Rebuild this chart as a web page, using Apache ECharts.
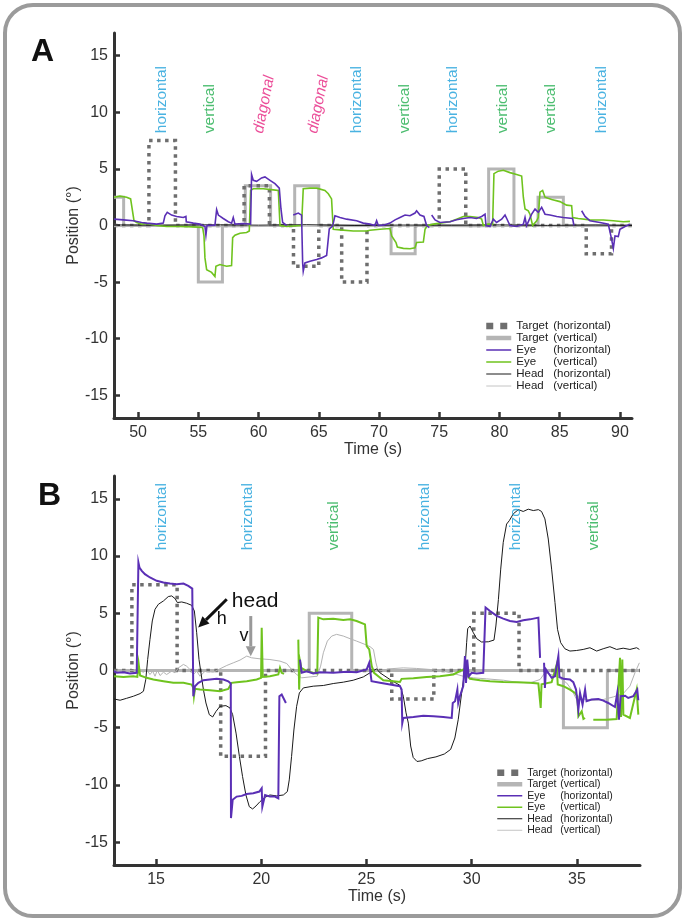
<!DOCTYPE html>
<html><head><meta charset="utf-8">
<script src="https://cdn.jsdelivr.net/npm/echarts@6/dist/echarts.min.js"></script>
<style>html,body{margin:0;padding:0;background:#fff}#c{width:685px;height:922px}</style>
</head><body><div id="c"></div><script>
// ---------------- DATA ----------------
const xTicksA = [50,55,60,65,70,75,80,85,90];
const xTicksB = [15,20,25,30,35];
const yTicks = [-15,-10,-5,0,5,10,15];
const seriesNames = ['Target (horizontal)','Target (vertical)','Eye (horizontal)','Eye (vertical)','Head (horizontal)','Head (vertical)'];

// Panel A
const targetHA = [[48,0],[50.9,0],[50.9,7.5],[53.1,7.5],[53.1,0],[58.8,0],[58.8,3.5],[60.9,3.5],[60.9,0],[62.9,0],[62.9,-3.6],[65.0,-3.6],[65.0,0],[66.9,0],[66.9,-5],[69.0,-5],[69.0,0],[75.0,0],[75.0,5],[77.2,5],[77.2,0],[87.2,0],[87.2,-2.5],[89.3,-2.5],[89.3,0],[91,0]];
const targetVA = [[48,2.5],[48.8,2.5],[48.8,0],[55.0,0],[55.0,-5],[57.0,-5],[57.0,0],[58.9,0],[58.9,3.5],[61.0,3.5],[61.0,0],[63.0,0],[63.0,3.5],[65.0,3.5],[65.0,0],[71.0,0],[71.0,-2.5],[73.0,-2.5],[73.0,0],[79.1,0],[79.1,5],[81.2,5],[81.2,0],[83.2,0],[83.2,2.5],[85.3,2.5],[85.3,0],[91,0]];
const eyeHA = [[48.0,0.56],[48.77,0.5],[49.6,0.42],[50.29,0.27],[50.71,0.21],[51.54,0.12],[52.09,0.21],[52.23,0.86],[52.42,1.16],[52.78,0.92],[53.2,0.8],[53.75,0.71],[53.97,0.8],[54.0,0.33],[54.58,0.21],[55.13,0.12],[55.55,-0.09],[55.63,-0.86],[55.72,0.0],[56.38,0.03],[56.52,1.4],[56.66,0.92],[57.07,0.62],[57.49,0.33],[57.76,0.21],[57.9,0.71],[58.04,0.12],[58.73,0.18],[59.34,0.12],[59.42,4.5],[59.56,3.99],[59.84,3.9],[60.25,4.2],[60.53,4.29],[60.95,3.99],[61.36,3.7],[61.72,3.3],[61.86,1.46],[62.0,0.27],[62.33,0.0],[62.4,'-'],[62.88,0.92],[63.3,1.1],[63.57,0.92],[63.66,-3.3],[63.71,-4.05],[63.85,-3.3],[64.27,-3.15],[64.82,-3.0],[65.23,-2.86],[65.65,-2.65],[65.79,-2.6],[65.87,-0.3],[66.15,-0.05],[66.34,0.86],[66.76,0.71],[67.31,0.56],[68.14,0.42],[68.69,0.21],[69.25,0.12],[69.66,0.0],[69.8,0.42],[69.94,0.0],[70.36,0.03],[70.91,0.21],[71.33,0.5],[71.74,0.71],[72.16,0.92],[72.57,0.86],[72.99,1.1],[73.12,1.3],[73.4,0.92],[73.73,0.8],[73.95,0.0],[74.18,-0.18],[74.25,'-'],[74.37,0.92],[74.65,0.5],[75.06,0.27],[75.89,0.33],[76.44,0.5],[77.0,0.62],[77.55,0.71],[78.1,0.62],[78.52,0.8],[78.8,1.0],[78.88,0.0],[79.21,-0.09],[79.49,0.56],[79.76,0.27],[80.18,0.56],[80.46,0.92],[80.6,0.62],[80.87,0.0],[81.42,-0.09],[81.98,0.12],[82.12,0.71],[82.25,0.0],[82.67,1.0],[82.95,1.45],[83.22,1.16],[83.5,1.6],[83.78,1.0],[84.19,0.92],[84.75,0.8],[85.3,0.71],[86.07,0.62],[86.18,0.0],[86.3,'-'],[86.82,1.3],[87.1,0.8],[87.51,0.42],[88.34,0.27],[89.03,0.12],[89.17,0.0],[89.31,-1.22],[89.45,-2.02],[89.59,-0.92],[89.86,-0.98],[90.0,-0.33],[90.42,-0.09],[90.83,0.12]];
const eyeVA = [[48.0,2.5],[48.49,2.59],[49.05,2.5],[49.38,2.35],[49.54,2.2],[49.66,0.42],[49.88,0.27],[50.29,0.12],[50.71,0.18],[51.54,0.0],[52.37,-0.09],[53.47,-0.09],[54.58,-0.12],[55.36,-0.18],[55.47,-0.92],[55.55,-2.86],[55.69,-3.9],[56.1,-4.14],[56.38,-4.5],[56.46,-3.6],[56.79,-3.45],[57.35,-3.6],[57.76,-3.54],[57.85,-1.07],[58.04,-0.86],[58.46,-0.68],[59.01,-0.62],[59.23,-0.48],[59.34,3.1],[59.56,3.24],[60.39,3.24],[61.22,3.15],[61.64,3.1],[61.78,0.0],[62.33,-0.09],[63.57,0.0],[63.71,3.24],[64.27,3.3],[64.82,3.3],[65.51,3.1],[65.79,2.8],[66.06,2.35],[66.2,-0.33],[66.76,-0.39],[67.86,-0.48],[68.97,-0.48],[69.25,-0.42],[70.08,-0.33],[70.91,-0.27],[71.05,-0.92],[71.41,-1.5],[71.52,-1.9],[72.02,-2.02],[72.57,-2.05],[72.99,-1.96],[73.12,-1.5],[73.68,-1.46],[73.82,-0.33],[74.01,0.0],[74.51,0.12],[75.06,0.21],[75.89,0.33],[76.44,0.56],[77.0,0.8],[77.55,0.8],[78.24,0.71],[78.52,0.56],[78.66,0.0],[79.07,0.12],[79.43,0.12],[79.54,4.58],[79.9,4.8],[80.32,4.88],[80.87,4.67],[81.42,4.5],[81.84,4.37],[81.98,2.5],[82.12,1.46],[82.39,1.3],[82.53,1.0],[82.75,0.0],[83.09,0.42],[83.22,0.71],[83.36,2.95],[83.58,3.1],[83.78,2.5],[84.33,2.29],[85.02,2.11],[85.57,1.8],[85.99,1.75],[86.07,0.71],[86.54,0.62],[87.51,0.5],[88.62,0.48],[89.45,0.42],[90.28,0.33],[90.83,0.36]];
const headHA = [[48,0.05],[52,0.02],[56,0.06],[60,0.03],[64,0.07],[68,0.0],[72,0.04],[76,0.02],[80,0.05],[84,0.01],[88,0.04],[91,0.0]];
const headVA = [[48,-0.1],[53,-0.06],[58,-0.12],[63,-0.05],[68,-0.1],[73,-0.07],[78,-0.12],[83,-0.06],[88,-0.1],[91,-0.05]];
const labelsA = [[51.98,'horizontal'],[55.97,'vertical'],[60.0,'diagonal'],[64.5,'diagonal'],[68.17,'horizontal'],[72.15,'vertical'],[76.14,'horizontal'],[80.29,'vertical'],[84.27,'vertical'],[88.5,'horizontal']];

// Panel B
const targetHB = [[13,0],[13.85,0],[13.85,7.5],[16.0,7.5],[16.0,0],[18.07,0],[18.07,-7.5],[20.2,-7.5],[20.2,0],[26.2,0],[26.2,-2.5],[28.2,-2.5],[28.2,0],[30.1,0],[30.1,5],[32.25,5],[32.25,0],[38,0]];
const targetVB = [[13,0],[22.28,0],[22.28,5],[24.3,5],[24.3,0],[34.36,0],[34.36,-5],[36.45,-5],[36.45,0],[38,0]];
const eyeHB = [[13.0,-0.06],[13.13,-0.2],[13.45,-0.15],[13.76,-0.26],[14.08,-0.2],[14.13,-0.06],[14.16,9.44],[14.21,9.0],[14.32,8.71],[14.47,8.42],[14.71,8.13],[15.03,7.84],[15.35,7.69],[15.66,7.6],[15.98,7.54],[16.3,7.6],[16.53,7.4],[16.72,7.16],[16.77,-2.25],[16.85,-1.37],[17.01,-1.08],[17.25,-0.85],[17.56,-0.79],[17.88,-0.73],[18.2,-0.79],[18.43,-0.94],[18.55,-1.14],[18.56,-12.9],[18.64,-11.3],[18.83,-11.02],[19.07,-10.96],[19.3,-10.8],[19.62,-10.73],[19.91,-10.58],[20.02,-10.29],[20.05,-11.9],[20.18,-10.88],[20.41,-11.02],[20.65,-11.02],[20.81,-11.17],[20.86,-2.25],[20.97,-2.1],[21.17,-2.84],[21.3,'-'],[21.84,0.96],[21.92,-0.2],[22.16,-0.06],[22.47,-0.26],[22.79,-0.15],[23.42,-0.2],[24.06,-0.12],[24.53,-0.15],[25.01,0.09],[25.13,0.67],[25.24,-0.94],[25.64,-1.08],[26.12,-1.23],[26.59,-1.37],[26.67,-1.67],[26.7,-4.6],[26.75,-4.15],[27.23,-4.06],[27.7,-3.95],[28.18,-4.0],[28.65,-4.06],[29.05,-4.15],[29.1,-2.84],[29.21,-2.69],[29.32,-1.67],[29.36,-2.84],[29.44,-2.25],[29.6,-1.37],[29.68,1.26],[29.73,-1.08],[29.79,0.96],[29.86,-0.5],[30.0,-0.2],[30.24,-0.26],[30.55,-0.2],[30.66,5.5],[30.87,5.2],[31.19,4.77],[31.5,4.53],[31.82,4.33],[32.14,4.24],[32.45,4.39],[32.77,4.47],[33.17,4.62],[33.25,1.1],[33.35,'-'],[33.44,0.67],[33.48,-1.52],[33.53,0.09],[33.8,-0.64],[33.96,-0.5],[34.12,1.26],[34.17,-0.56],[34.36,-0.73],[34.67,-0.79],[34.83,-1.02],[34.96,-1.67],[35.07,-3.42],[35.15,-1.96],[35.27,-2.98],[35.39,-1.67],[35.46,-2.69],[35.7,-2.54],[36.02,-2.49],[36.26,-2.63],[36.49,-2.84],[36.81,-3.19],[36.92,-1.96],[37.0,-4.3],[37.08,-2.25],[37.29,-2.2],[37.44,-2.4],[37.68,-2.25],[37.87,-1.67],[37.92,-2.6]];
const eyeVB = [[13.0,-0.5],[13.45,-0.56],[13.92,-0.5],[14.11,-0.56],[14.17,0.61],[14.24,-0.44],[14.55,-0.64],[14.87,-0.79],[15.35,-0.94],[15.82,-1.08],[16.3,-1.08],[16.69,-1.23],[16.77,-1.52],[16.8,-2.25],[16.85,-1.6],[17.09,-1.67],[17.56,-1.73],[18.04,-1.81],[18.43,-1.61],[18.59,-1.08],[18.83,-1.02],[19.31,-0.94],[19.78,-0.79],[19.99,-0.64],[20.02,3.74],[20.07,-0.56],[20.41,-0.5],[20.81,-0.35],[20.89,0.23],[20.97,-0.2],[21.08,-0.3],[21.2,'-'],[21.76,2.7],[21.8,-1.67],[21.84,0.82],[21.9,0.23],[22.16,-0.06],[22.47,-0.2],[22.66,-0.26],[22.71,4.62],[22.95,4.47],[23.42,4.53],[23.9,4.42],[24.22,4.47],[24.53,4.33],[24.93,4.03],[25.01,2.13],[25.13,1.84],[25.25,0.38],[25.36,-0.2],[25.56,-0.5],[25.8,-0.85],[26.28,-0.94],[26.59,-1.0],[26.67,-0.73],[27.23,-0.67],[27.86,-0.56],[28.49,-0.5],[29.13,-0.35],[29.44,-0.06],[29.6,0.09],[29.76,-0.35],[29.92,-0.73],[30.39,-0.85],[30.87,-0.94],[31.5,-1.0],[32.14,-1.02],[32.77,-1.08],[33.17,-1.14],[33.28,-3.27],[33.32,-1.2],[33.8,-1.02],[34.04,0.53],[34.09,-1.23],[34.36,-1.37],[34.67,-1.67],[34.91,-1.96],[35.02,-2.25],[35.07,-4.0],[35.23,-3.57],[35.31,-4.24],[35.39,-4.15],[35.5,'-'],[35.78,-4.3],[36.41,-4.3],[36.89,-4.24],[37.05,1.11],[37.1,-4.06],[37.16,0.96],[37.21,-3.86],[37.52,-4.15],[37.84,-1.67],[37.92,-3.86]];
const headHB = [[13.0,-2.49],[13.29,-2.6],[13.6,-2.43],[13.92,-2.25],[14.24,-2.02],[14.4,-1.81],[14.51,-0.79],[14.6,0.96],[14.71,2.72],[14.82,4.33],[14.95,5.35],[15.11,5.79],[15.35,6.08],[15.58,6.46],[15.74,6.52],[15.9,6.29],[16.01,5.94],[16.22,5.99],[16.45,5.88],[16.69,5.7],[16.82,5.2],[16.93,3.3],[17.04,0.96],[17.25,-1.67],[17.37,-2.84],[17.53,-3.86],[17.69,-4.06],[17.85,-3.57],[18.04,-3.13],[18.32,-3.07],[18.51,-3.27],[18.64,-3.86],[18.8,-5.47],[18.96,-7.51],[19.11,-9.27],[19.27,-10.88],[19.43,-11.9],[19.59,-12.1],[19.75,-11.84],[19.94,-11.46],[20.18,-11.08],[20.41,-10.88],[20.73,-10.96],[21.05,-10.88],[21.24,-10.58],[21.33,-9.56],[21.44,-7.51],[21.55,-5.2],[21.68,-3.13],[21.81,-1.96],[22.0,-1.52],[22.47,-1.37],[22.95,-1.31],[23.42,-1.14],[23.9,-1.02],[24.37,-0.85],[24.85,-0.56],[25.17,-0.2],[25.48,0.15],[25.64,-0.2],[26.12,-0.79],[26.59,-1.3],[26.75,-2.25],[26.88,-3.7],[26.99,-4.6],[27.1,-6.6],[27.22,-7.6],[27.4,-7.95],[27.6,-7.9],[27.9,-7.7],[28.3,-7.55],[28.7,-7.3],[29.0,-6.9],[29.2,-5.9],[29.36,-4.3],[29.52,-2.0],[29.68,0.09],[29.76,2.43],[29.81,3.65],[29.92,3.89],[30.08,3.3],[30.24,2.78],[30.47,2.49],[30.79,2.51],[31.06,2.66],[31.15,3.89],[31.27,6.2],[31.38,8.86],[31.5,11.2],[31.66,12.8],[31.79,13.1],[31.98,13.7],[32.22,14.06],[32.45,13.9],[32.69,14.1],[32.93,13.98],[33.17,14.06],[33.32,13.9],[33.48,13.25],[33.64,11.49],[33.8,8.86],[33.96,5.94],[34.08,3.6],[34.23,2.43],[34.43,1.9],[34.67,1.7],[34.99,1.75],[35.3,1.84],[35.62,1.99],[35.94,1.7],[36.25,1.9],[36.57,2.08],[36.89,1.84],[37.2,1.95],[37.52,1.84],[37.84,1.99],[37.97,1.84]];
const headVB = [[13.0,-0.06],[13.76,0.0],[14.16,0.03],[14.4,-0.15],[14.55,0.09],[14.71,-0.35],[14.84,-0.06],[14.95,-0.5],[15.06,0.03],[15.19,-0.44],[15.35,-0.15],[15.5,-0.35],[15.74,-0.06],[15.9,-0.2],[16.06,0.23],[16.3,0.53],[16.45,0.38],[16.61,0.09],[16.77,-0.35],[16.93,-0.06],[17.09,-0.5],[17.33,-0.06],[17.72,-0.15],[18.04,0.15],[18.36,0.44],[18.67,0.67],[18.99,0.91],[19.31,1.26],[19.54,1.11],[19.94,1.02],[20.41,0.96],[20.89,0.82],[21.21,0.61],[21.44,0.09],[21.68,-0.35],[21.92,-0.64],[22.32,-0.56],[22.66,-0.5],[22.82,0.38],[22.95,1.55],[23.14,2.57],[23.35,3.01],[23.58,3.16],[23.9,3.01],[24.22,2.78],[24.53,2.57],[24.93,2.28],[25.17,2.08],[25.33,1.84],[25.45,0.67],[25.56,-0.06],[26.12,0.15],[26.75,0.23],[27.38,0.18],[28.02,0.09],[28.65,-0.06],[29.13,-0.26],[29.6,-0.5],[30.08,-0.64],[30.71,-0.73],[31.5,-0.85],[32.14,-1.02],[32.77,-1.08],[33.25,-0.79],[33.48,-0.2],[34.04,-0.5],[34.51,-1.08],[34.75,-1.67],[34.99,-2.54],[35.3,-2.49],[35.78,-2.6],[36.25,-2.54],[36.73,-2.31],[37.2,-2.02],[37.52,-1.37],[37.76,-0.2],[37.97,0.67]];
const labelsB = [[15.27,'horizontal'],[19.35,'horizontal'],[23.46,'vertical'],[27.78,'horizontal'],[32.09,'horizontal'],[35.81,'vertical']];

// annotation anchors in data coordinates (panel B)
const annot = {
  blackArrow: [[18.36,6.23],[17.0,3.75]],
  greyArrow: [[19.5,4.76],[19.5,1.25]],
  headText: [18.6,5.1], hText: [17.88,3.7], vText: [18.96,2.2]
};

// ---------------- STYLE ----------------
const FONT = '"Liberation Sans", Arial, Helvetica, sans-serif';
const C = {tH:'#6e6e6e', tV:'#b5b5b5', eH:'#5a2fb5', eV:'#6fc31e', hH:'#1a1a1a', hV:'#b3b3b3', axis:'#333'};
const labelColors = {horizontal:'#1c9fd9', vertical:'#1fad4c', diagonal:'#e6207e'};
const LABEL_Y = [8.15, 10.5];

const chart = echarts.init(document.getElementById('c'), null, {renderer:'canvas'});

function xAx(gi, min, max, ticks){
  return {type:'value', gridIndex:gi, min, max, name:'Time (s)', nameLocation:'middle', nameGap:22,
    nameTextStyle:{fontSize:16, color:C.axis, fontFamily:FONT},
    axisLine:{show:true, onZero:false, lineStyle:{color:C.axis, width:3}},
    axisTick:{show:true, inside:true, length:6, customValues:ticks, lineStyle:{color:C.axis, width:2.5}},
    axisLabel:{customValues:ticks, fontSize:16, color:C.axis, fontFamily:FONT, margin:7},
    splitLine:{show:false}};
}
function yAx(gi){
  return {type:'value', gridIndex:gi, min:-17, max:17, name:'Position (°)', nameLocation:'middle', nameGap:32, nameMoveOverlap:false,
    nameTextStyle:{fontSize:16, color:C.axis, fontFamily:FONT},
    axisLine:{show:true, onZero:false, lineStyle:{color:C.axis, width:3}},
    axisTick:{show:true, inside:true, length:6, customValues:yTicks, lineStyle:{color:C.axis, width:2.5}},
    axisLabel:{customValues:yTicks, fontSize:16, color:C.axis, fontFamily:FONT, margin:6},
    splitLine:{show:false}};
}
function ln(name, gi, data, color, width, type, z){
  return {name, type:'line', xAxisIndex:gi, yAxisIndex:gi, data, symbol:'none', showSymbol:false,
    lineStyle:{color, width, type:type||'solid', cap:'butt', join:'miter'}, itemStyle:{color},
    z:z, animation:false, silent:true, connectNulls:false};
}
function labelSeries(gi, labels){
  return {type:'scatter', xAxisIndex:gi, yAxisIndex:gi, symbolSize:0, silent:true, animation:false, z:10,
    data: labels.map(([t, txt]) => ({value:[t, LABEL_Y[gi]], name:txt,
      label:{color:labelColors[txt], rotate: txt==='diagonal'?79:90, fontStyle: txt==='diagonal'?'italic':'normal'}})),
    label:{show:true, position:'inside', align:'left', verticalAlign:'middle', fontSize:15.5, fontFamily:FONT,
      formatter: p => p.name}};
}
function legendCfg(left, top, fs, lh, wa){
  const hide = {opacity:0};
  return {orient:'vertical', left, top, padding:0, itemWidth:25, itemHeight:8, itemGap:0, selectedMode:false,
    data:[
      {name:seriesNames[0], itemStyle:hide, lineStyle:{type:[7,7], width:6.5, color:C.tH}},
      {name:seriesNames[1], itemStyle:hide, lineStyle:{width:4.5, color:C.tV}},
      {name:seriesNames[2], itemStyle:hide, lineStyle:{width:1.5, color:C.eH}},
      {name:seriesNames[3], itemStyle:hide, lineStyle:{width:1.5, color:C.eV}},
      {name:seriesNames[4], itemStyle:hide, lineStyle:{width:1, color:C.hH}},
      {name:seriesNames[5], itemStyle:hide, lineStyle:{width:1, color:'#c4c4c4'}}],
    formatter: n => { const i = n.indexOf(' '); return '{a|' + n.slice(0,i) + '}{b|' + n.slice(i+1) + '}'; },
    textStyle:{fontFamily:FONT, fontSize:fs, color:'#222', lineHeight:lh,
      rich:{a:{width:wa, fontSize:fs, fontFamily:FONT, color:'#222', lineHeight:lh}, b:{fontSize:fs, fontFamily:FONT, color:'#222', lineHeight:lh}}}};
}

const option = {
  animation:false,
  backgroundColor:'#fff',
  grid:[{left:114, right:53, top:33, bottom:504}, {left:114, right:45, top:476, bottom:57}],
  xAxis:[xAx(0,48,91,xTicksA), xAx(1,13,38,xTicksB)],
  yAxis:[yAx(0), yAx(1)],
  legend:[legendCfg(483, 320, 11.5, 11.3, 37), legendCfg(494, 767, 10.5, 11.5, 33)],
  series:[
    ln(seriesNames[1],0,targetVA,C.tV,3,'solid',1),
    ln(seriesNames[0],0,targetHA,C.tH,3.5,[3.5,4.5],2),
    ln(seriesNames[5],0,headVA,C.hV,1,'solid',3),
    ln(seriesNames[4],0,headHA,C.hH,1,'solid',3),
    ln(seriesNames[3],0,eyeVA,C.eV,1.6,'solid',4),
    ln(seriesNames[2],0,eyeHA,C.eH,1.6,'solid',5),
    labelSeries(0, labelsA),
    ln(seriesNames[1],1,targetVB,C.tV,3,'solid',1),
    ln(seriesNames[0],1,targetHB,C.tH,3.5,[3.5,4.5],2),
    ln(seriesNames[5],1,headVB,C.hV,1,'solid',3),
    ln(seriesNames[4],1,headHB,C.hH,1,'solid',3),
    ln(seriesNames[3],1,eyeVB,C.eV,2,'solid',4),
    ln(seriesNames[2],1,eyeHB,C.eH,2,'solid',5),
    labelSeries(1, labelsB)
  ]
};
chart.setOption(option);

// ---------------- ANNOTATIONS ----------------
const px = p => chart.convertToPixel({xAxisIndex:1, yAxisIndex:1}, p);
function arrow(a, b, color, w, hl, hw){
  const p0 = px(a), p1 = px(b);
  const dx = p1[0]-p0[0], dy = p1[1]-p0[1], L = Math.hypot(dx,dy), ux = dx/L, uy = dy/L;
  const bx = p1[0]-ux*hl, by = p1[1]-uy*hl;
  return [
    {type:'line', shape:{x1:p0[0], y1:p0[1], x2:bx, y2:by}, style:{stroke:color, lineWidth:w}, z:20},
    {type:'polygon', shape:{points:[[p1[0],p1[1]],[bx-uy*hw, by+ux*hw],[bx+uy*hw, by-ux*hw]]}, style:{fill:color}, z:20}
  ];
}
function txt(p, s, size){
  const q = px(p);
  return {type:'text', x:q[0], y:q[1], z:20, style:{text:s, fontSize:size, fontFamily:FONT, fill:'#111', align:'left', verticalAlign:'bottom'}};
}
const graphics = [
  {type:'rect', shape:{x:5, y:5, width:675, height:911, r:28}, style:{fill:'none', stroke:'#9b9b9b', lineWidth:4}, z:0},
  {type:'text', x:31, y:36, style:{text:'A', fontSize:32, fontWeight:'bold', fontFamily:FONT, fill:'#111'}},
  {type:'text', x:38, y:480, style:{text:'B', fontSize:32, fontWeight:'bold', fontFamily:FONT, fill:'#111'}},
  ...arrow(annot.blackArrow[0], annot.blackArrow[1], '#111', 3, 11, 5),
  ...arrow(annot.greyArrow[0], annot.greyArrow[1], '#999', 3, 10, 5),
  txt(annot.headText, 'head', 21),
  txt(annot.hText, 'h', 18),
  txt(annot.vText, 'v', 18)
];
chart.setOption({graphic:{elements:graphics}});
</script></body></html>
